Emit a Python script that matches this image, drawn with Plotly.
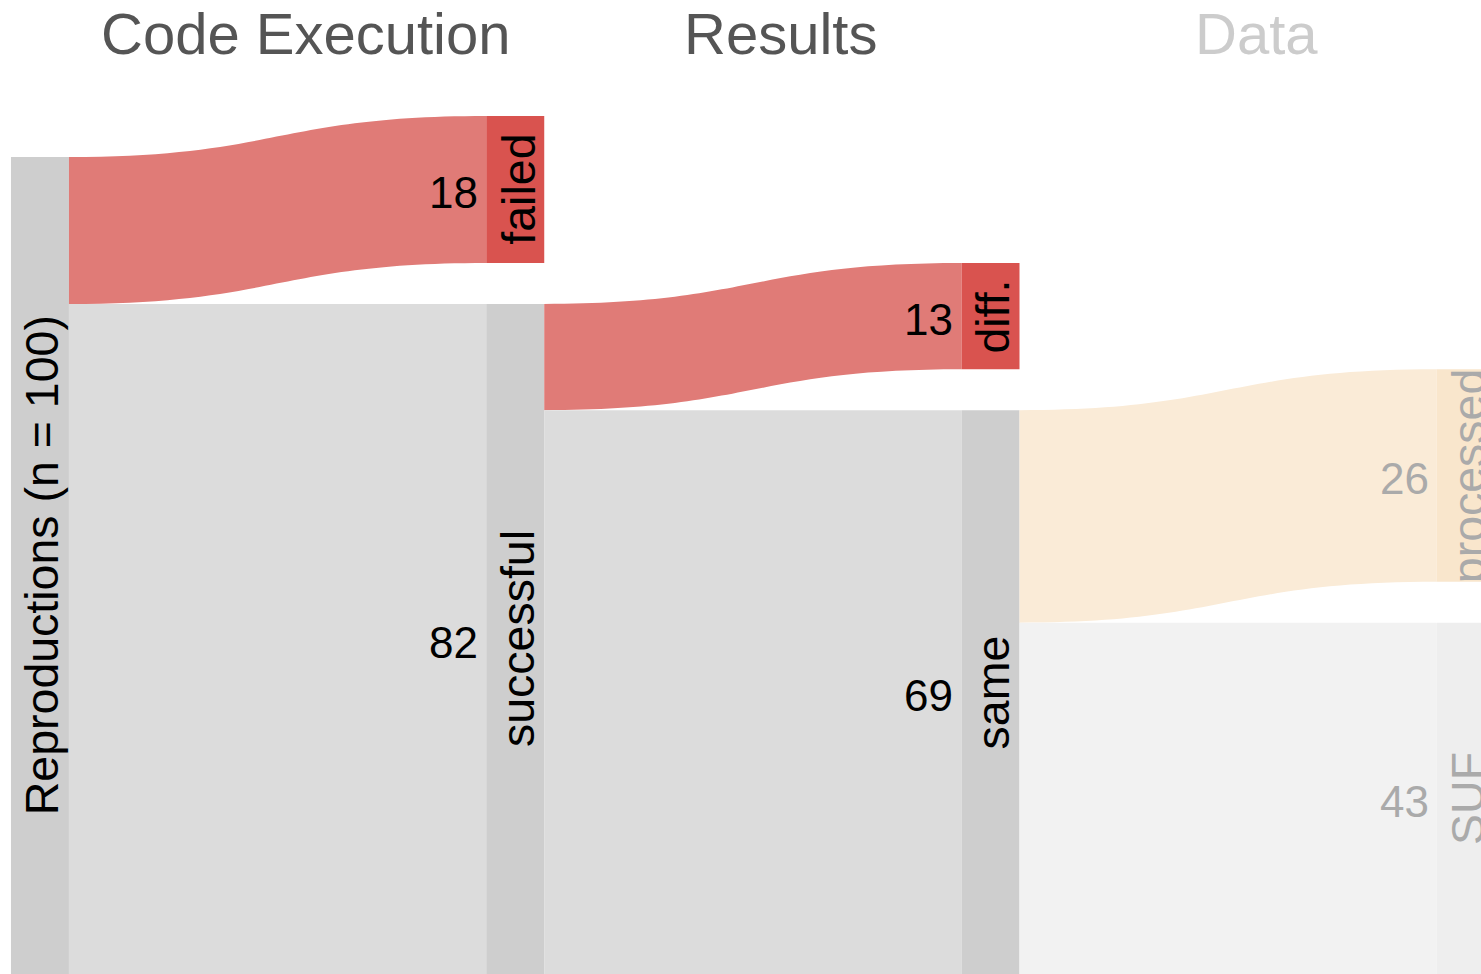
import plotly.graph_objects as go

# ---------------- data ----------------
stages = ["Code Execution", "Results", "Data"]
source_label = "Reproductions (n = 100)"
source_total = 100
branch_labels = ["failed", "diff.", "processed"]
branch_values = [18, 13, 26]
cont_labels = ["successful", "same", "SUF"]
cont_values = [82, 69, 43]

# ---------------- style ----------------
GAP = 5            # vertical shift of branch nodes (in count units)
NODE_W = 0.122     # node width in column units
FONT = "Arial, Liberation Sans, sans-serif"
faded = [False, False, True]
branch_node_col = ["#d9534f", "#d9534f", "#f9e6cc"]
branch_flow_col = ["#e07b77", "#e07b77", "#faebd7"]
cont_node_col = ["#cecece", "#cecece", "#eeeeee"]
cont_flow_col = ["#dcdcdc", "#dcdcdc", "#f2f2f2"]
source_node_col = "#cecece"
title_col = ["#555555", "#555555", "#cccccc"]

fig = go.Figure()
shapes = []
annotations = []


def rect(x0, x1, y0, y1, color):
    shapes.append(dict(type="rect", xref="x", yref="y", x0=x0, x1=x1, y0=y0, y1=y1,
                       fillcolor=color, line=dict(width=0), layer="below"))


def link(xa, xb, a0, a1, b0, b1, color):
    xm = (xa + xb) / 2
    path = (f"M {xa},{a0} C {xm},{a0} {xm},{b0} {xb},{b0} "
            f"L {xb},{b1} C {xm},{b1} {xm},{a1} {xa},{a1} Z")
    shapes.append(dict(type="path", xref="x", yref="y", path=path,
                       fillcolor=color, line=dict(width=0), layer="below"))


def node_label(x, yc, text, color):
    annotations.append(dict(x=x + 0.006, y=yc, xref="x", yref="y", text=text, showarrow=False,
                            textangle=-90, xanchor="center", yanchor="middle",
                            font=dict(family=FONT, size=46.5, color=color)))


def value_label(x, yc, text, color):
    annotations.append(dict(x=x, y=yc + 0.4, xref="x", yref="y", text=text, showarrow=False,
                            xanchor="right", yanchor="middle",
                            font=dict(family=FONT, size=44, color=color)))


# source node
parent_top = GAP
parent_val = source_total
rect(0, NODE_W, parent_top, parent_top + parent_val, source_node_col)
node_label(NODE_W / 2, parent_top + parent_val / 2, source_label, "#000000")

for i, stage in enumerate(stages):
    bv = branch_values[i]
    cv = cont_values[i]
    xa = i + NODE_W
    xb = i + 1
    txt_col = "#aaaaaa" if faded[i] else "#000000"
    # branch node (shifted up)
    b_top = parent_top - GAP
    link(xa, xb, parent_top, parent_top + bv, b_top, b_top + bv, branch_flow_col[i])
    rect(xb, xb + NODE_W, b_top, b_top + bv, branch_node_col[i])
    value_label(xb - 0.013, b_top + bv / 2, str(bv), txt_col)
    node_label(xb + NODE_W / 2, b_top + bv / 2, branch_labels[i], txt_col)
    # continuing node
    c_top = parent_top + bv
    link(xa, xb, c_top, c_top + cv, c_top, c_top + cv, cont_flow_col[i])
    rect(xb, xb + NODE_W, c_top, c_top + cv, cont_node_col[i])
    value_label(xb - 0.013, c_top + cv / 2, str(cv), txt_col)
    node_label(xb + NODE_W / 2, c_top + cv / 2, cont_labels[i], txt_col)
    # stage title
    annotations.append(dict(x=i + 0.62, y=0.966, xref="x", yref="paper", text=stage,
                            showarrow=False, xanchor="center", yanchor="middle",
                            font=dict(family=FONT, size=58, color=title_col[i])))
    parent_top = c_top
    parent_val = cv

# invisible trace so axes exist
fig.add_trace(go.Scatter(x=[0], y=[0], mode="markers", marker=dict(opacity=0),
                         hoverinfo="skip", showlegend=False))

fig.update_layout(
    width=1481, height=974,
    margin=dict(l=0, r=0, t=0, b=0),
    paper_bgcolor="white", plot_bgcolor="white",
    shapes=shapes, annotations=annotations,
    xaxis=dict(range=[-0.0231, 3.093], visible=False, fixedrange=True),
    yaxis=dict(range=[105, -14.2], visible=False, fixedrange=True),
    showlegend=False,
)

fig.write_html("out.html", config={"displayModeBar": False},
               post_script="document.body.style.margin='0';document.body.style.overflow='hidden';")
